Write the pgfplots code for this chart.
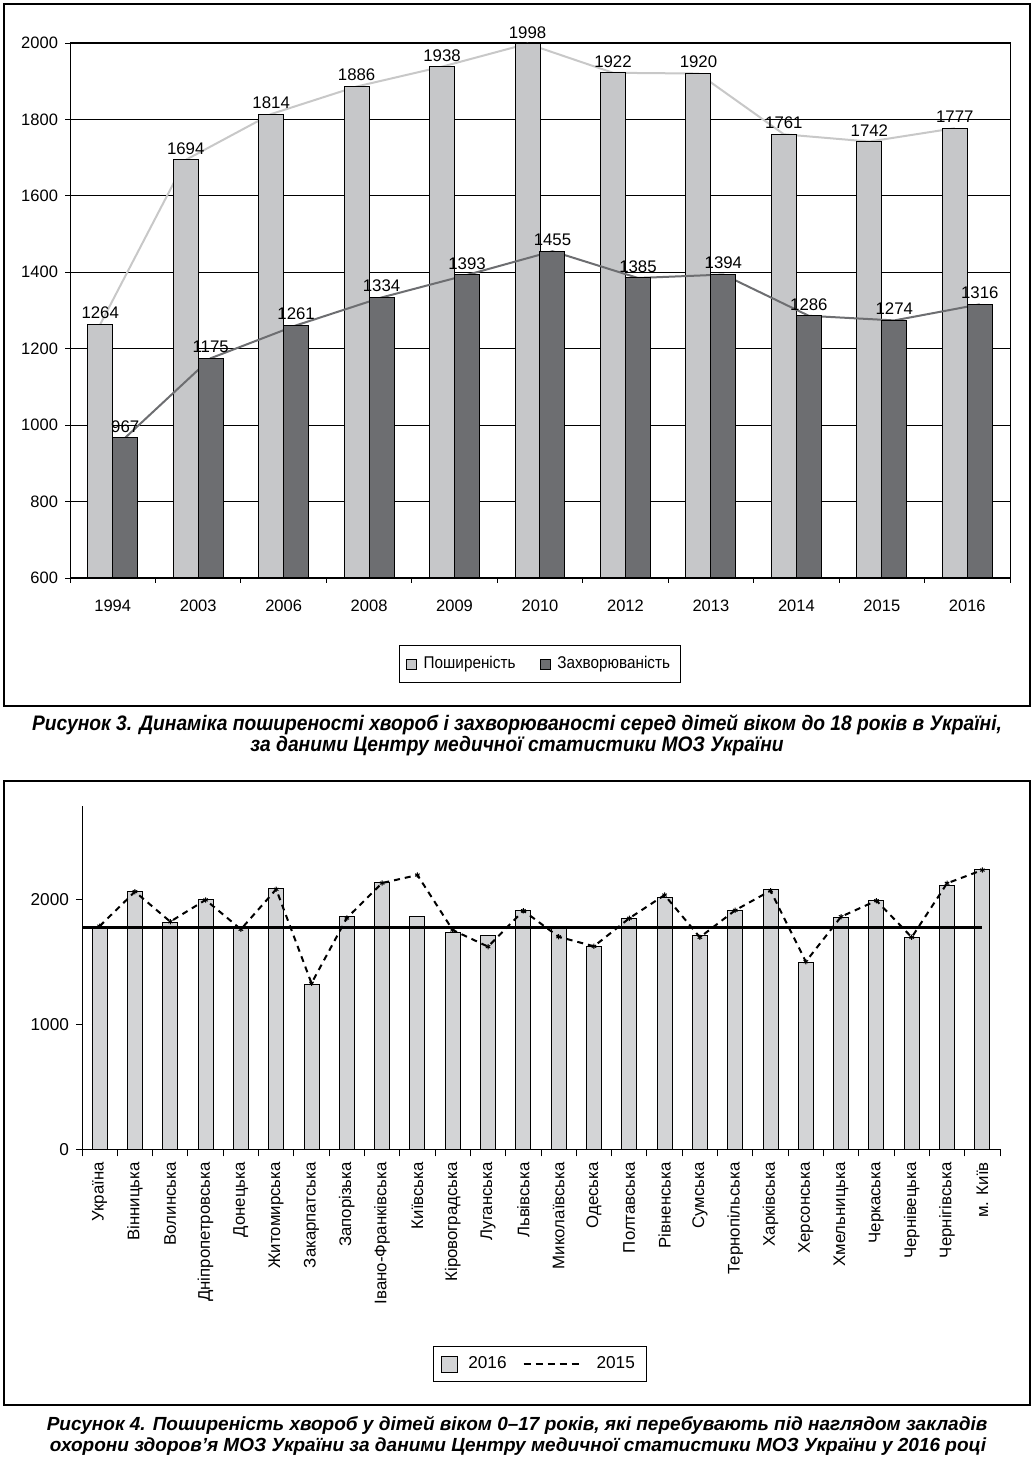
\documentclass[border=0pt]{standalone}
\usepackage{fontspec}
\setmainfont{Liberation Sans}
\usepackage{pgfplots}
\pgfplotsset{compat=1.18}
\usepackage{pgfplotstable}

\definecolor{lightbar}{RGB}{198,199,201}
\definecolor{darkbar}{RGB}{109,110,113}
\definecolor{lightline}{RGB}{200,200,200}
\definecolor{regionbar}{RGB}{211,212,214}

\pgfplotsset{
  /pgf/number format/assume math mode=true,
  /pgf/number format/1000 sep={},
}

% Рисунок 3: роки, поширеність, захворюваність
\pgfplotstableread{
x prev inc
0 1264 967
1 1694 1175
2 1814 1261
3 1886 1334
4 1938 1393
5 1998 1455
6 1922 1385
7 1920 1394
8 1761 1286
9 1742 1274
10 1777 1316
}\dynamics

% Рисунок 4: регіони, 2016 і 2015
\pgfplotstableread{
x y2016 y2015
0 1777 1785
1 2064 2061
2 1816 1821
3 2000 1995
4 1770 1760
5 2088 2080
6 1320 1328
7 1864 1850
8 2136 2130
9 1864 2194
10 1736 1754
11 1712 1621
12 1912 1909
13 1770 1700
14 1624 1624
15 1848 1848
16 2016 2034
17 1712 1696
18 1912 1912
19 2080 2069
20 1496 1501
21 1856 1861
22 1992 1989
23 1696 1696
24 2112 2128
25 2240 2234
}\regions

\begin{document}
\begin{tikzpicture}
\path[use as bounding box] (0,0) rectangle (517pt,729.5pt);

% frames
\draw[line width=0.7pt] (2pt,376.5pt) rectangle (515pt,727.5pt);
\draw[line width=0.7pt] (2pt,27pt) rectangle (515pt,339pt);

\begin{axis}[
  at={(35pt,440.5pt)}, anchor=south west,
  scale only axis, width=470pt, height=267.5pt,
  xmin=-0.5, xmax=10.5, ymin=600, ymax=2000,
  ytick={600,800,...,2000},
  ymajorgrids, grid style={black, line width=0.45pt},
  xtick={0,...,10},
  xticklabels={1994,2003,2006,2008,2009,2010,2012,2013,2014,2015,2016},
  minor xtick={-0.5,0.5,...,10.5},
  major x tick style={draw=none},
  xtick pos=bottom, ytick pos=left,
  tick align=outside,
  major tick length=2.5pt, minor tick length=2.5pt,
  tick style={black, line width=0.45pt},
  axis line style={black, line width=0.5pt},
  tick label style={font=\fontsize{8.25pt}{9pt}\selectfont},
  xticklabel style={yshift=-5pt},
  clip=false,
  nodes near coords style={font=\fontsize{8.4pt}{9pt}\selectfont, anchor=south, inner sep=2.5pt},
  legend style={at={(0.5,-0.161)}, anchor=center, draw=black, line width=0.5pt,
    legend columns=2, font=\fontsize{8.5pt}{10pt}\selectfont,
    /tikz/every even column/.append style={column sep=10pt},
    inner xsep=3pt, inner ysep=3.5pt},
]
\addplot[lightline, line width=1pt, forget plot]
  table[x expr=\thisrow{x}-0.146, y=prev] {\dynamics};
\addplot[ybar, bar width=0.2926, bar shift=0pt, fill=lightbar, draw=black, line width=0.5pt,
  nodes near coords,
  legend image code/.code={\draw[fill=lightbar,draw=black,line width=0.4pt] (0pt,-2.5pt) rectangle (5pt,2.5pt);}]
  table[x expr=\thisrow{x}-0.146, y=prev] {\dynamics};
\addlegendentry{\hspace{1.5pt}\scalebox{0.9}[1]{Поширеність}}
\addplot[darkbar, line width=1pt, forget plot]
  table[x expr=\thisrow{x}+0.146, y=inc] {\dynamics};
\addplot[ybar, bar width=0.2926, bar shift=0pt, fill=darkbar, draw=black, line width=0.5pt,
  nodes near coords,
  legend image code/.code={\draw[fill=darkbar,draw=black,line width=0.4pt] (0pt,-2.5pt) rectangle (5pt,2.5pt);}]
  table[x expr=\thisrow{x}+0.146, y=inc] {\dynamics};
\addlegendentry{\hspace{1.5pt}\scalebox{0.9}[1]{Захворюваність}}
\end{axis}

\node[anchor=base, font=\fontsize{10.5pt}{12pt}\selectfont\bfseries\itshape] at (258.5pt,364pt)
  {\scalebox{0.915}[1]{Рисунок 3. Динаміка поширеності хвороб і захворюваності серед дітей віком до 18 років в Україні,}};
\node[anchor=base, font=\fontsize{10.5pt}{12pt}\selectfont\bfseries\itshape] at (258.5pt,353.5pt)
  {\scalebox{0.915}[1]{за даними Центру медичної статистики МОЗ України}};

\begin{axis}[
  at={(41pt,154.85pt)}, anchor=south west,
  scale only axis, width=459pt, height=171.875pt,
  xmin=-0.5, xmax=25.5, ymin=0, ymax=2750,
  axis lines*=left,
  ytick={0,1000,2000},
  xtick={0,...,25},
  xticklabels={Україна,Вінницька,Волинська,Дніпропетровська,Донецька,Житомирська,Закарпатська,Запорізька,Івано-Франківська,Київська,Кіровоградська,Луганська,Львівська,Миколаївська,Одеська,Полтавська,Рівненська,Сумська,Тернопільська,Харківська,Херсонська,Хмельницька,Черкаська,Чернівецька,Чернігівська,м. Київ},
  minor xtick={-0.5,0.5,...,25.5},
  major x tick style={draw=none},
  tick align=outside,
  major tick length=3pt, minor tick length=3.5pt,
  tick style={black, line width=0.45pt},
  axis line style={black, line width=0.5pt},
  tick label style={font=\fontsize{8.6pt}{10pt}\selectfont},
  xticklabel style={rotate=90, anchor=east, font=\fontsize{8.4pt}{9pt}\selectfont},
  clip=false,
  legend style={at={(0.499,-0.6246)}, anchor=center, draw=black, line width=0.5pt,
    legend columns=2, font=\fontsize{8.6pt}{10pt}\selectfont,
    /tikz/every even column/.append style={column sep=6pt},
    inner xsep=4pt, inner ysep=3pt},
]
\addplot[ybar, bar width=0.425, bar shift=0pt, fill=regionbar, draw=black, line width=0.5pt,
  legend image code/.code={\draw[fill=regionbar,draw=black,line width=0.5pt] (0pt,-4pt) rectangle (8pt,4pt);}]
  table[x=x, y=y2016] {\regions};
\addlegendentry{\hspace{3pt}2016}
\addplot[black, line width=1.5pt, forget plot] coordinates {(-0.5,1777) (25,1777)};
\addplot[black, line width=1pt, dash pattern=on 3pt off 2.5pt, mark=asterisk, mark size=1.3pt,
  mark options={solid, line width=0.5pt},
  legend image code/.code={\draw[black,line width=1pt,dash pattern=on 3.5pt off 2.5pt] (0pt,0pt) -- (30pt,0pt);}]
  table[x=x, y=y2015] {\regions};
\addlegendentry{\hspace{4pt}2015}
\end{axis}

\node[anchor=base, font=\fontsize{9.5pt}{11pt}\selectfont\bfseries\itshape] at (258.5pt,14pt)
  {Рисунок 4. Поширеність хвороб у дітей віком 0–17 років, які перебувають під наглядом закладів};
\node[anchor=base, font=\fontsize{9.5pt}{11pt}\selectfont\bfseries\itshape] at (259pt,3.5pt)
  {охорони здоров’я МОЗ України за даними Центру медичної статистики МОЗ України у 2016 році};
\end{tikzpicture}
\end{document}
